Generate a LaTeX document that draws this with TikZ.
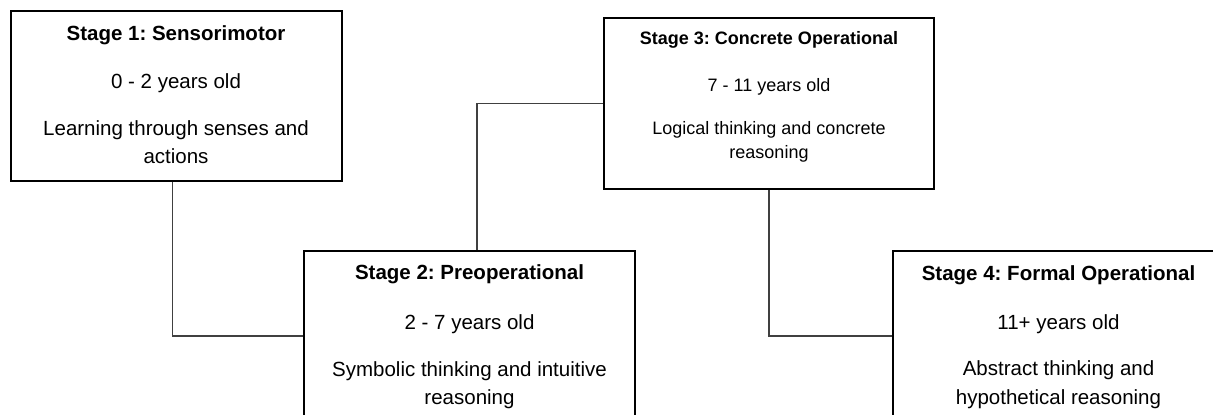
\documentclass[tikz,border=0pt]{standalone}
\usepackage{fontspec}
\setmainfont{Liberation Sans}
\frenchspacing
\begin{document}
\begin{tikzpicture}[x=1pt,y=-1pt,
  stagebox/.style={draw=black, line width=2pt, inner sep=0pt, minimum width=331pt, minimum height=170pt},
  bigtitle/.style={anchor=base, inner sep=0pt, font=\fontsize{20.5}{24}\selectfont\bfseries},
  bigtext/.style={anchor=base, inner sep=0pt, font=\fontsize{20.5}{24}\selectfont},
  smalltitle/.style={anchor=base, inner sep=0pt, font=\fontsize{18}{22}\selectfont\bfseries},
  smalltext/.style={anchor=base, inner sep=0pt, font=\fontsize{18}{22}\selectfont},
  link/.style={draw=black!75, line width=1.3pt}]
\clip (0,0) rectangle (1213,415);
\fill[white] (0,0) rectangle (1213,415);
% boxes
\node[stagebox] (b1) at (176,96) {};
\node[stagebox] (b2) at (469.5,336) {};
\node[stagebox, minimum width=330pt, minimum height=171pt] (b3) at (769,103.5) {};
\node[stagebox] (b4) at (1058.5,336) {};
% box 1 text
\node[bigtitle] (b1t) at (176,40) {Stage 1: Sensorimotor};
\node[bigtext] (b1y) at (176,88) {0 - 2 years old};
\node[bigtext] (b1d1) at (176,135) {Learning through senses and};
\node[bigtext] (b1d2) at (176,163) {actions};
% box 2 text
\node[bigtitle] (b2t) at (469.5,279) {Stage 2: Preoperational};
\node[bigtext] (b2y) at (469.5,329) {2 - 7 years old};
\node[bigtext] (b2d1) at (469.5,376) {Symbolic thinking and intuitive};
\node[bigtext] (b2d2) at (469.5,404) {reasoning};
% box 3 text
\node[smalltitle] (b3t) at (769,44.5) {Stage 3: Concrete Operational};
\node[smalltext] (b3y) at (769,91) {7 - 11 years old};
\node[smalltext] (b3d1) at (769,134) {Logical thinking and concrete};
\node[smalltext] (b3d2) at (769,158) {reasoning};
% box 4 text
\node[bigtitle] (b4t) at (1058.5,280) {Stage 4: Formal Operational};
\node[bigtext] (b4y) at (1058.5,329) {11+ years old};
\node[bigtext] (b4d1) at (1058.5,375) {Abstract thinking and};
\node[bigtext] (b4d2) at (1058.5,404) {hypothetical reasoning};
% connectors
\draw[link] ([xshift=-3.5pt]b1.south) |- (b2.west);
\draw[link] ([xshift=7.5pt]b2.north) |- (b3.west);
\draw[link] (b3.south) |- (b4.west);
\end{tikzpicture}
\end{document}
